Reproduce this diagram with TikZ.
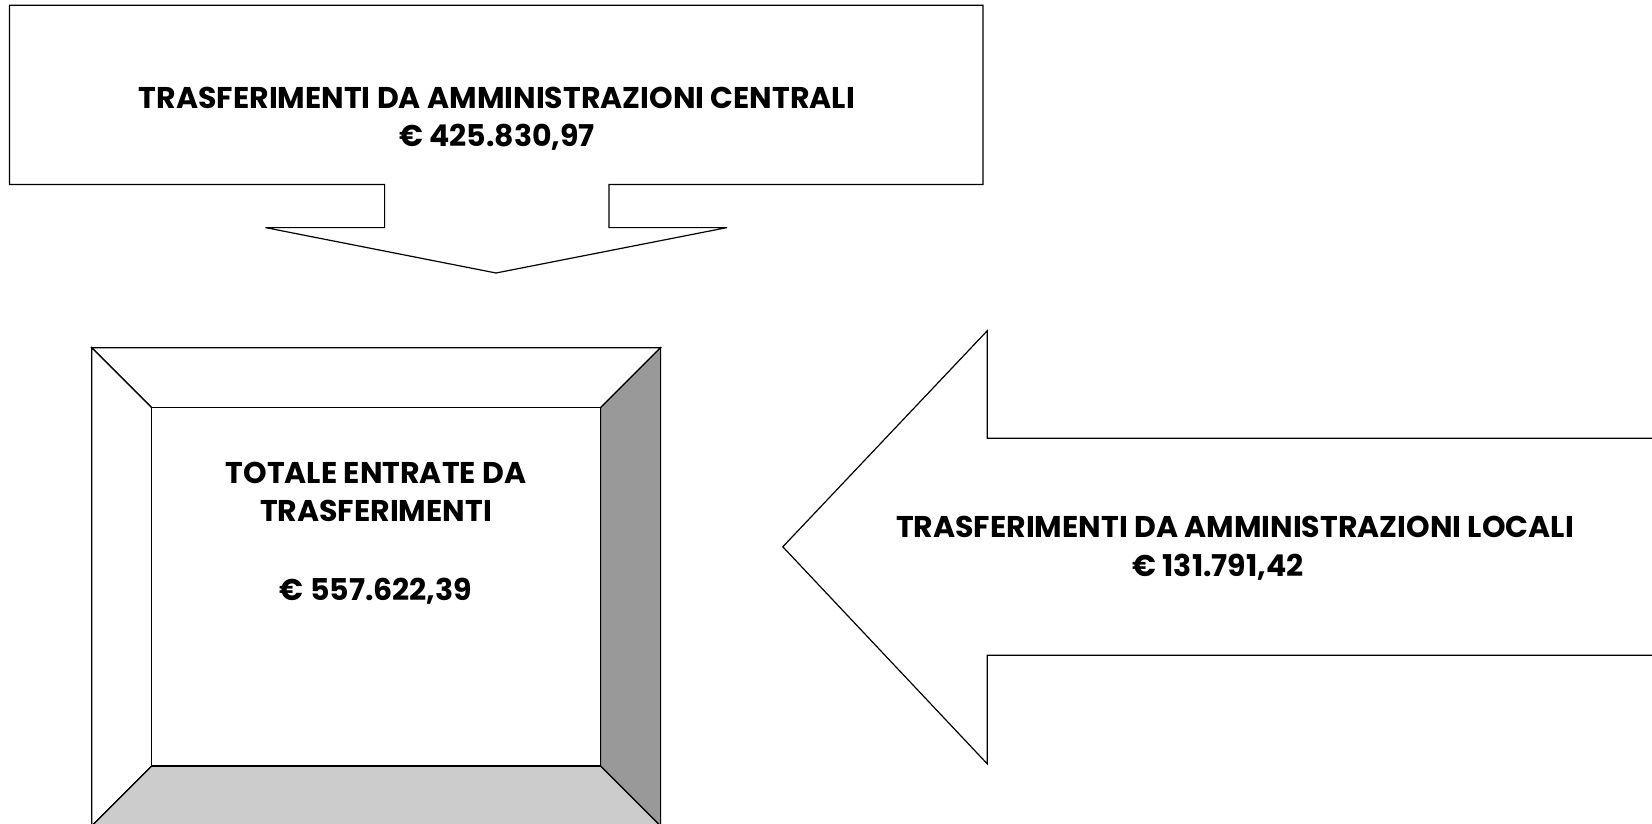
\documentclass[tikz,border=0pt]{standalone}
\usepackage{fontspec}
\setmainfont{Poppins}
\begin{document}
\begin{tikzpicture}[x=1pt,y=-1pt,
  outl/.style={draw=black,line width=1.2pt,line join=miter,fill=white},
  lbl/.style={font=\fontsize{30}{38}\selectfont\bfseries,align=center,inner sep=0pt}]
\useasboundingbox (0,0) rectangle (1652,824);
\clip (0,0) rectangle (1652,824);
% top down-arrow callout
\draw[outl] (9.5,5.3) -- (983,5.3) -- (983,184.4) -- (609,184.4) -- (609,227.6)
  -- (727,227.6) -- (496,273) -- (265.5,227.6) -- (384.6,227.6) -- (384.6,184.4)
  -- (9.5,184.4) -- cycle;
\node[lbl] (central) at (497,119) {TRASFERIMENTI DA AMMINISTRAZIONI CENTRALI\\€ 425.830,97};
% bevel frame
\coordinate (o1) at (91.7,347.7); \coordinate (o2) at (660.6,347.7);
\coordinate (o3) at (660.6,826); \coordinate (o4) at (91.7,826);
\coordinate (i1) at (151.7,407.7); \coordinate (i2) at (600.5,407.7);
\coordinate (i3) at (600.5,766); \coordinate (i4) at (151.7,766);
\draw[outl] (o1) -- (o2) -- (i2) -- (i1) -- cycle;
\draw[outl] (o1) -- (i1) -- (i4) -- (o4) -- cycle;
\draw[outl,fill=black!40] (o2) -- (o3) -- (i3) -- (i2) -- cycle;
\draw[outl,fill=black!20] (i4) -- (i3) -- (o3) -- (o4) -- cycle;
\draw[outl] (i1) rectangle (i3);
\node[lbl] (total) at (376,533) {TOTALE ENTRATE DA\\TRASFERIMENTI\\[41pt]€ 557.622,39};
% left arrow
\draw[outl] (1660,438.3) -- (987.2,438.3) -- (987.2,330.8) -- (782.8,546.8)
  -- (987.2,763.8) -- (987.2,655.3) -- (1660,655.3);
\node[lbl] (local1) at (1235,527) {TRASFERIMENTI DA AMMINISTRAZIONI LOCALI};
\node[lbl] (local2) at (1218,567) {€ 131.791,42};
\end{tikzpicture}
\end{document}
